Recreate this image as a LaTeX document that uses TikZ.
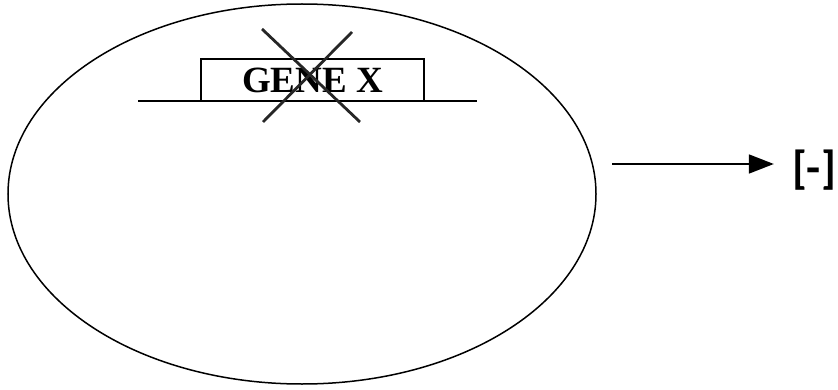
\documentclass[tikz,border=0pt]{standalone}
\usepackage{fontspec}
\setmainfont{Liberation Serif}
\newfontfamily\brfont{Carlito}
\usetikzlibrary{arrows.meta,shapes.geometric}
\begin{document}
\begin{tikzpicture}[x=1pt,y=1pt,
  cell/.style={draw, ellipse, line width=1.5pt, minimum width=588pt, minimum height=380pt, inner sep=0pt},
  genebox/.style={draw, line width=1.8pt, minimum width=223pt, minimum height=42pt, inner sep=0pt,
     font=\fontsize{37}{40}\selectfont\bfseries},
  dnaline/.style={line width=1.8pt},
  cross/.style={line width=2.8pt, color=black!85},
  result/.style={font=\brfont\fontsize{46}{50}\selectfont\bfseries, inner sep=0pt}]
\useasboundingbox (0,0) rectangle (838,389);
\node[cell] (cellnode) at (302,195) {};
\node[genebox] (gene) at (312.5,309) {GENE X};
\coordinate (dnaL) at (138,288);
\coordinate (dnaR) at (477,288);
\draw[dnaline] (dnaL) -- (dnaR);
\coordinate (x1a) at (262,360);
\coordinate (x1b) at (360,267);
\coordinate (x2a) at (352,357);
\coordinate (x2b) at (263,267);
\draw[cross] (x1a) -- (x1b);
\draw[cross] (x2a) -- (x2b);
\node[result] (minus) at (814,219) {[-]};
\coordinate (arrstart) at (612,225);
\draw[line width=1.8pt, -{Triangle[length=25pt,width=19pt]}, shorten >=18pt] (arrstart) -- (arrstart -| minus.west);
\end{tikzpicture}
\end{document}
